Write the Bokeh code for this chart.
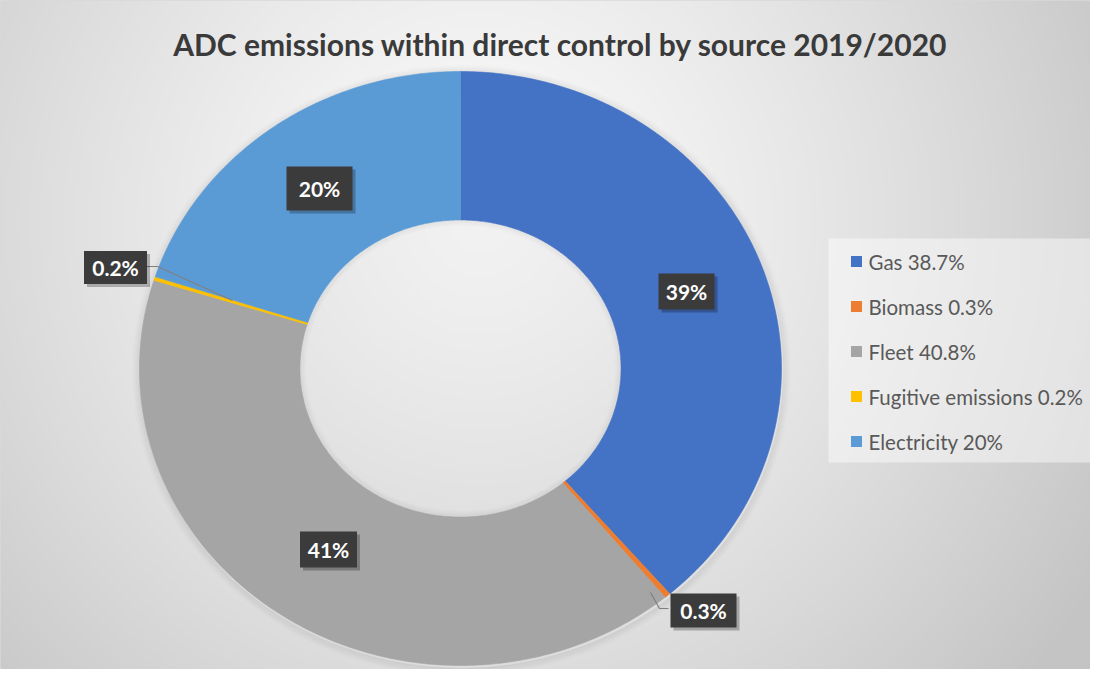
import numpy as np
from bokeh.plotting import figure
from bokeh.models import Range1d, ColumnDataSource
from bokeh.core.properties import value
from bokeh.embed import file_html
from bokeh.resources import INLINE

# ---------------- data ----------------
title = "ADC emissions within direct control by source 2019/2020"
categories = ["Gas", "Biomass", "Fleet", "Fugitive emissions", "Electricity"]
shares = [38.7, 0.3, 40.8, 0.2, 20]
colors = ["#4472C4", "#ED7D31", "#A5A5A5", "#FFC000", "#5B9BD5"]

# ---------------- layout (reference pixel space) ----------------
W, H = 1090, 669
CX, CY = 460, 368          # donut centre
RX, RY = 321, 297          # outer radii
HOLE = 0.5                 # inner radius fraction
FONT = "Lato"

def Y(ry):
    return H - ry

def fmt_legend(v):
    return f"{v:g}%"

def fmt_label(v):
    return f"{v:.1f}%" if v < 1 else f"{round(v)}%"

p = figure(width=W, height=H, x_range=Range1d(0, W), y_range=Range1d(0, H),
           x_axis_type=None, y_axis_type=None, output_backend="svg",
           toolbar_location=None, min_border=0)
p.grid.visible = False
p.outline_line_color = "#d9d9d9"
p.background_fill_color = "#e6e6e6"
p.border_fill_color = "white"

# ---------------- radial gradient background ----------------
GH, GW = 335, 545
gx = (np.arange(GW) + 0.5) * W / GW
gy_data = (np.arange(GH) + 0.5) * H / GH
gy_ref = H - gy_data
XX, YY = np.meshgrid(gx, gy_ref)
d = np.sqrt((XX - 480) ** 2 + (YY - 220) ** 2)
g = 251 - 55 * np.clip(d / 720, 0, 1) ** 1.3
img = np.empty((GH, GW), dtype=np.uint32)
view = img.view(dtype=np.uint8).reshape((GH, GW, 4))
view[..., 0] = g
view[..., 1] = g
view[..., 2] = g
view[..., 3] = 255
p.image_rgba(image=[img], x=0, y=0, dw=W, dh=H)

# ---------------- donut outer shadow (soft rings) ----------------
for k in range(1, 9):
    p.ellipse(x=CX + 1, y=Y(CY + 2), width=2 * (RX + k), height=2 * (RY + k),
              fill_color=None, line_color="black",
              line_alpha=0.05 * (9 - k) / 8, line_width=1.5)

# ---------------- donut slices ----------------
total = float(sum(shares))
cum = np.concatenate([[0.0], np.cumsum(shares)]) / total
xs, ys = [], []
for i in range(len(shares)):
    s, e = cum[i], cum[i + 1]
    n = max(6, int(600 * (e - s)) + 2)
    t = np.linspace(2 * np.pi * s, 2 * np.pi * e, n)
    ox = CX + RX * np.sin(t)
    oy = CY - RY * np.cos(t)
    ix = CX + HOLE * RX * np.sin(t[::-1])
    iy = CY - HOLE * RY * np.cos(t[::-1])
    xs.append(list(np.concatenate([ox, ix])))
    ys.append(list(Y(np.concatenate([oy, iy]))))
p.patches(xs=xs, ys=ys, fill_color=colors, line_color=colors, line_width=0.6)

# hole tint and subtle rim shading
p.ellipse(x=CX, y=Y(CY), width=2 * HOLE * RX, height=2 * HOLE * RY,
          fill_color="black", fill_alpha=0.035, line_color=None)
for k in range(1, 7):
    p.ellipse(x=CX, y=Y(CY), width=2 * (HOLE * RX - k), height=2 * (HOLE * RY - k),
              fill_color=None, line_color="black", line_alpha=0.035 * (7 - k) / 6, line_width=1.5)

# ---------------- leader lines ----------------
leader_xs = [[668, 659, 650], [146, 157, 232]]
leader_ys = [[Y(608), Y(608), Y(592)], [Y(266), Y(266), Y(300)]]
p.multi_line(xs=leader_xs, ys=leader_ys, line_color="#808080", line_width=1.2)

# ---------------- data labels ----------------
label_x = [686, 703, 328, 115, 319]
label_y = [291, 610, 549, 267, 188]
box_w = [56, 66, 57, 63, 66]
box_h = [36, 34, 36, 33, 44]
labels = [fmt_label(v) for v in shares]
lsrc = ColumnDataSource(dict(x=label_x, y=[Y(v) for v in label_y],
                             sx=[v + 3 for v in label_x], sy=[Y(v + 3) for v in label_y],
                             w=box_w, h=box_h, text=labels))
p.rect(x="sx", y="sy", width="w", height="h", source=lsrc,
       fill_color="black", fill_alpha=0.25, line_color=None)
p.rect(x="x", y="y", width="w", height="h", source=lsrc,
       fill_color="#3b3b3b", line_color=None)
p.text(x="x", y="y", text="text", source=lsrc, text_color="white",
       text_font=value(FONT), text_font_style="bold", text_font_size="21px",
       text_align="center", text_baseline="middle")

# ---------------- legend ----------------
p.quad(left=828, right=W, bottom=Y(462), top=Y(238),
       fill_color="white", fill_alpha=0.45, line_color=None)
leg_y = [Y(v) for v in [261, 306, 351, 396, 441]]
leg_text = [f"{c} {fmt_legend(v)}" for c, v in zip(categories, shares)]
p.scatter(x=[856] * len(categories), y=leg_y, marker="square", size=11,
          fill_color=colors, line_color=None)
p.text(x=[868] * len(categories), y=leg_y, text=leg_text, text_color="#595959",
       text_font=value(FONT), text_font_size="20.5px",
       text_align="left", text_baseline="middle")

# ---------------- title ----------------
p.text(x=[560], y=[Y(43)], text=[title], text_color="#3a3a3a",
       text_font=value(FONT), text_font_style="bold", text_font_size="30px",
       text_align="center", text_baseline="middle")

open("out.html", "w").write(file_html(p, INLINE))
